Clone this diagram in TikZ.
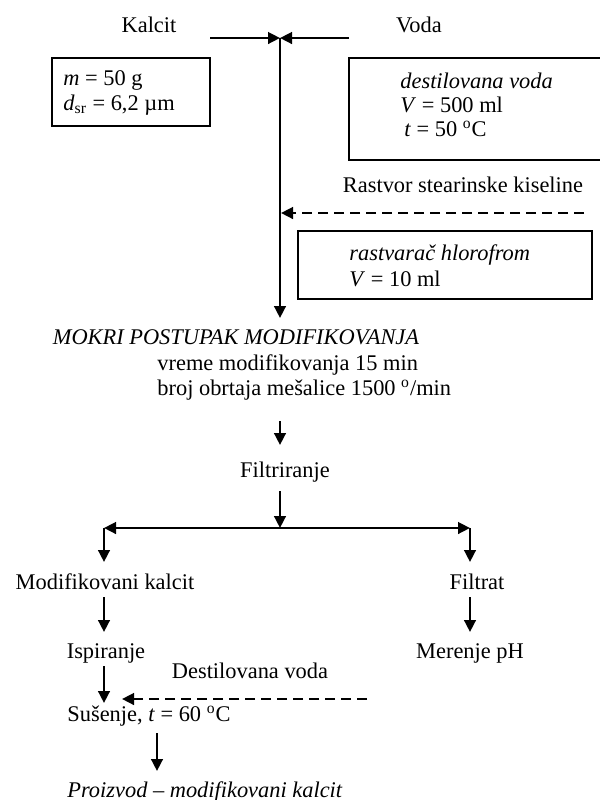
\documentclass[tikz,border=0pt]{standalone}
\usepackage{fontspec}
\setmainfont{Liberation Serif}
\usetikzlibrary{arrows.meta}

\tikzset{
  arr/.style={-{Triangle[length=6pt,width=5.8pt]}, line width=1.2pt},
  darr/.style={arr, dash pattern=on 5pt off 3pt},
  boxline/.style={line width=1pt},
  lbl/.style={inner sep=0pt, font=\fontsize{11.2}{13}\selectfont}
}

\begin{document}
\begin{tikzpicture}[x=0.5pt, y=-0.5pt]
    \useasboundingbox (0,0) rectangle (600,800);

    % inputs
    \node[lbl] (kalcit) at (149,25) {Kalcit};
    \node[lbl] (voda) at (419,25) {Voda};

    \draw[boxline] (52,58) rectangle (210,126);
    \node[lbl, anchor=west] (kmass) at (63,80) {\textit{m} = 50 g};
    \node[lbl, anchor=west] (kdiam) at (63,105) {\textit{d}\textsubscript{sr} = 6,2 µm};

    \draw[boxline] (349,58) rectangle (603,160);
    \node[lbl, anchor=west] (vdest) at (400,81) {\textit{destilovana voda}};
    \node[lbl, anchor=west] (vvol) at (400,105) {\textit{V} = 500 ml};
    \node[lbl, anchor=west] (vtemp) at (404,129) {\textit{t} = 50 \textsuperscript{o}C};

    \coordinate (kin) at (210,38);
    \coordinate (join) at (280,38);
    \coordinate (vin) at (349,38);
    \coordinate (mix) at (280,318);
    \draw[arr] (kin) -- (join);
    \draw[arr] (vin) -- (join);
    \draw[arr] (join) -- (mix);

    % stearic acid
    \node[lbl] (rastvor) at (463,185) {Rastvor stearinske kiseline};
    \coordinate (rin) at (584,213);
    \coordinate (rjoin) at (281,213);
    \draw[darr] (rin) -- (rjoin);

    \draw[boxline] (298,231) rectangle (592,299);
    \node[lbl, anchor=west] (hlor) at (349,255) {\textit{rastvarač hlorofrom}};
    \node[lbl, anchor=west] (hvol) at (349,279) {\textit{V} = 10 ml};

    % modification
    \node[lbl] (mokri) at (236,337) {\textit{MOKRI POSTUPAK MODIFIKOVANJA}};
    \node[lbl, anchor=west] (vreme) at (157,365) {vreme modifikovanja 15 min};
    \node[lbl, anchor=west] (broj) at (157,390) {broj obrtaja mešalice 1500 \textsuperscript{o}/min};

    \coordinate (f1) at (280,421);
    \coordinate (f2) at (280,445);
    \draw[arr] (f1) -- (f2);
    \node[lbl] (filtr) at (285,472) {Filtriranje};

    \coordinate (f3) at (280,491);
    \coordinate (split) at (280,528);
    \coordinate (sl) at (104,528);
    \coordinate (sr) at (470,528);
    \draw[arr] (f3) -- (split);
    \draw[arr] (split) -- (sl);
    \draw[arr] (split) -- (sr);
    \coordinate (sl2) at (104,562);
    \coordinate (sr2) at (470,562);
    \draw[arr] (sl) -- (sl2);
    \draw[arr] (sr) -- (sr2);

    \node[lbl] (modkal) at (105,582) {Modifikovani kalcit};
    \node[lbl] (filtrat) at (477,582) {Filtrat};

    \coordinate (m1) at (104,597);
    \coordinate (m2) at (104,632);
    \coordinate (p1) at (470,597);
    \coordinate (p2) at (470,632);
    \draw[arr] (m1) -- (m2);
    \draw[arr] (p1) -- (p2);

    \node[lbl] (ispir) at (106,653) {Ispiranje};
    \node[lbl] (merenje) at (470,653) {Merenje pH};

    % washing and drying
    \node[lbl] (destvoda) at (250,671) {Destilovana voda};
    \coordinate (i1) at (104,666);
    \coordinate (i2) at (104,703);
    \draw[arr] (i1) -- (i2);
    \coordinate (d1) at (367,699);
    \coordinate (d2) at (122,699);
    \draw[darr] (d1) -- (d2);

    \node[lbl, anchor=west] (susenje) at (67,716) {Sušenje, \textit{t} = 60 \textsuperscript{o}C};
    \coordinate (s1) at (157,733);
    \coordinate (s2) at (157,771);
    \draw[arr] (s1) -- (s2);
    \node[lbl, anchor=west] (proizvod) at (67,792) {\textit{Proizvod – modifikovani kalcit}};
\end{tikzpicture}
\end{document}
